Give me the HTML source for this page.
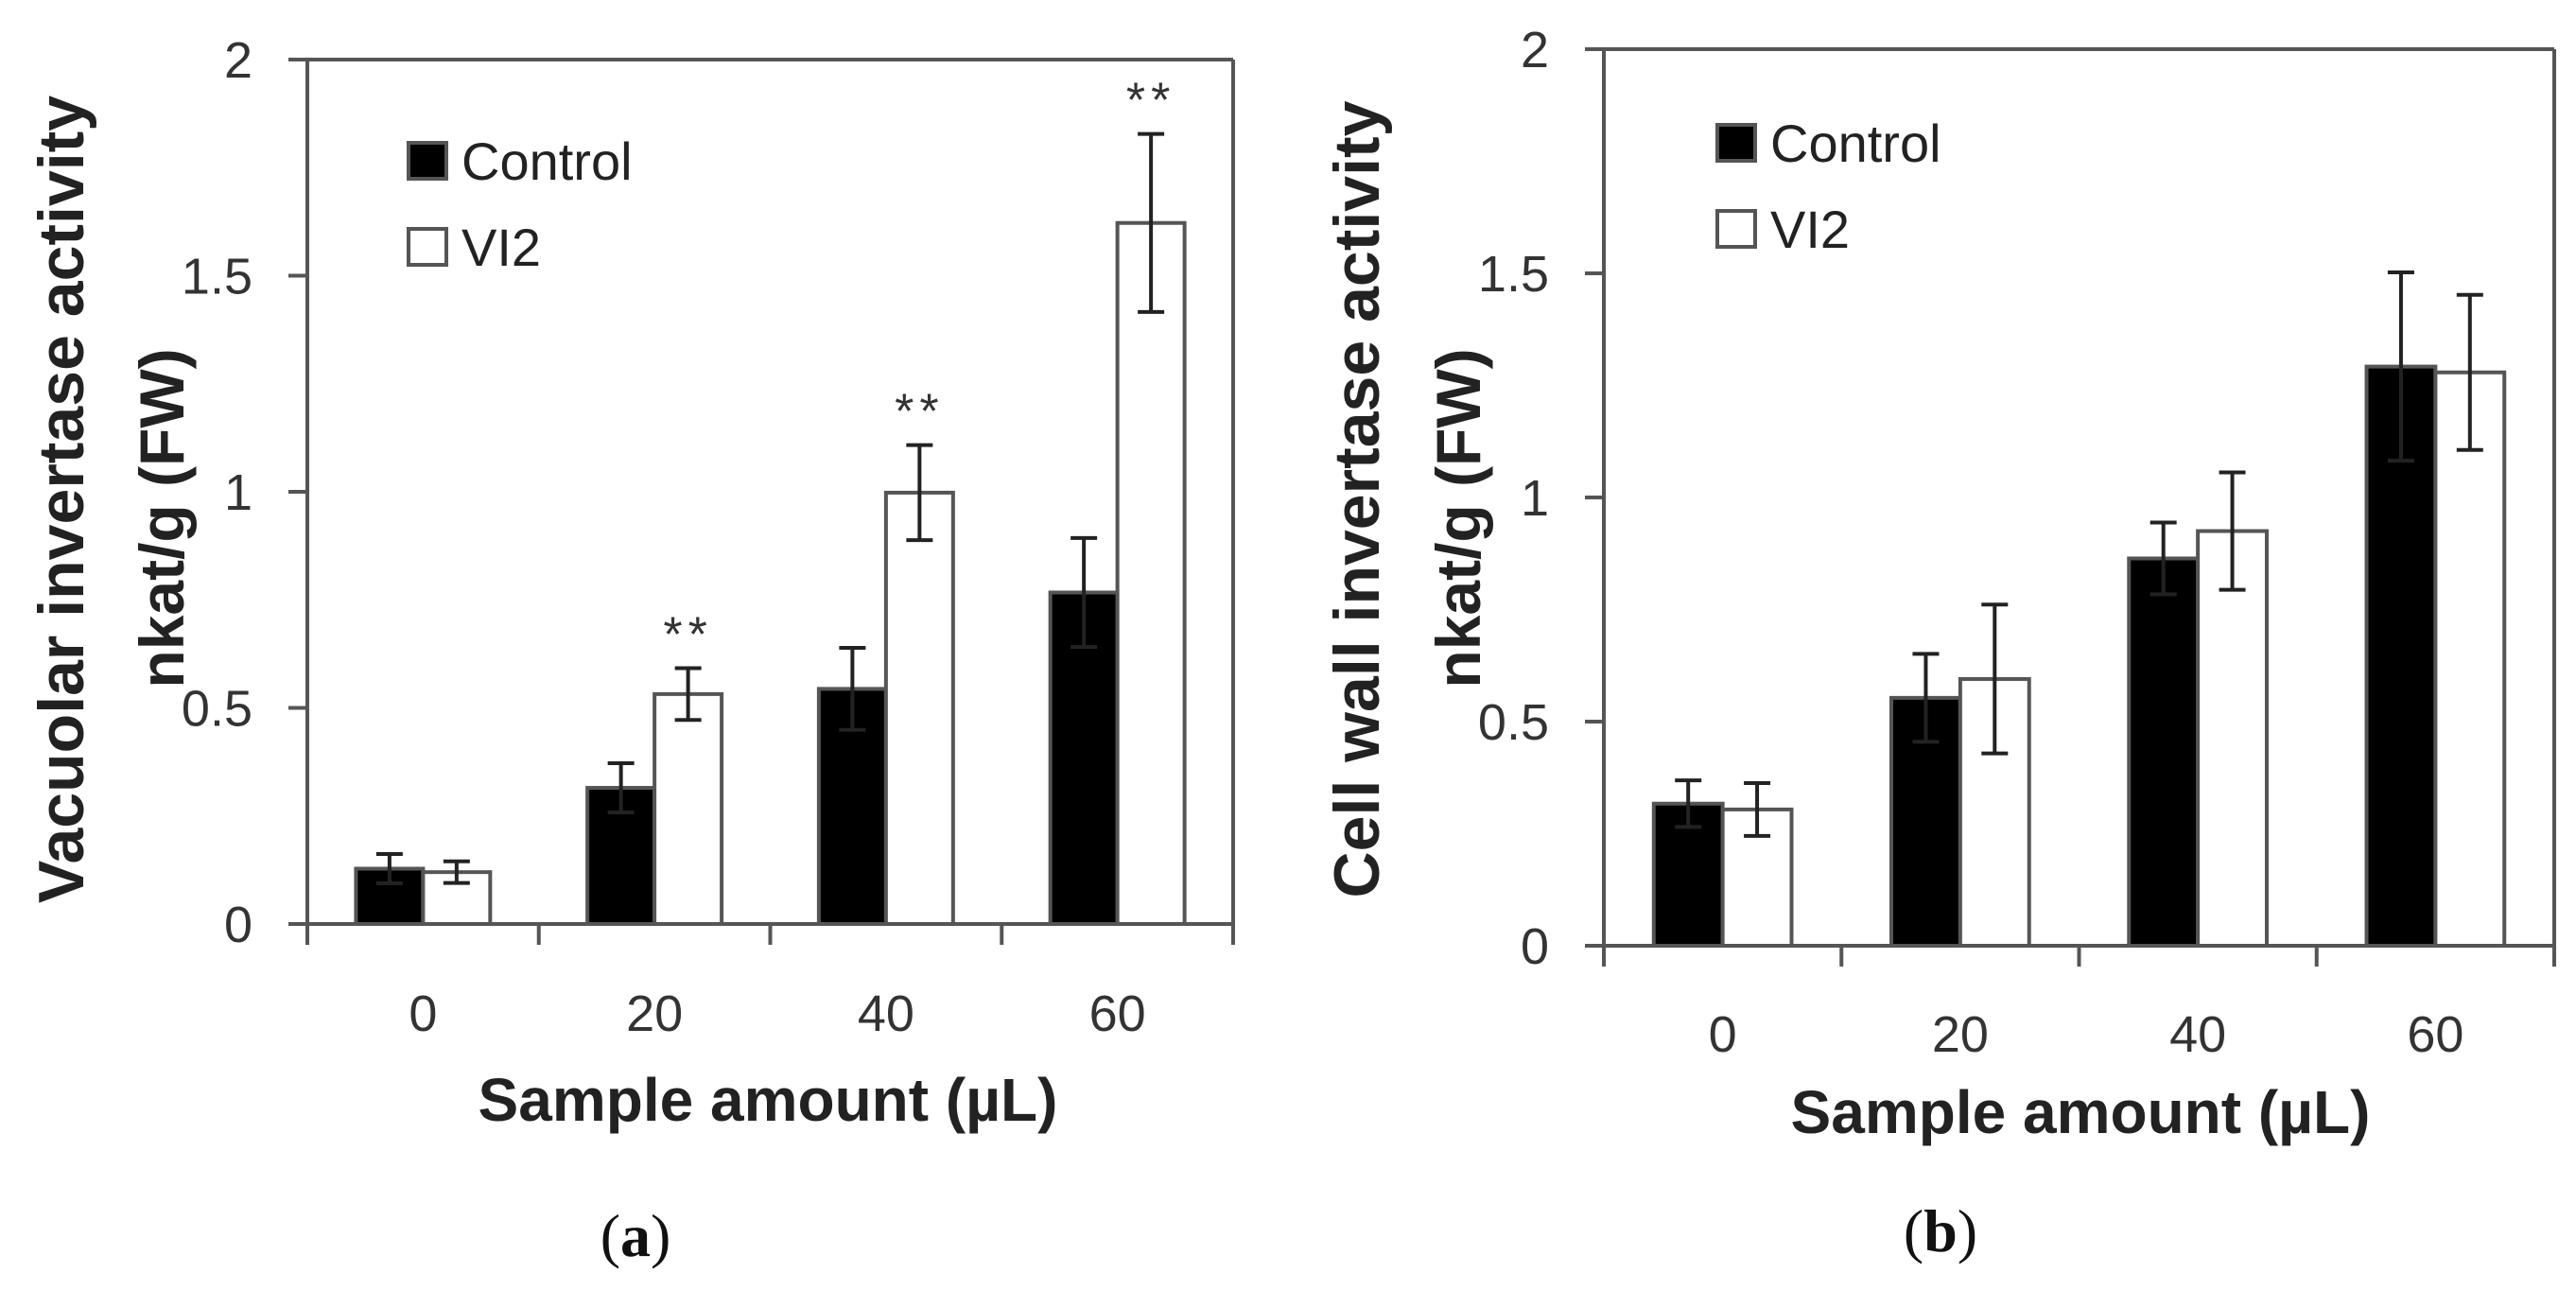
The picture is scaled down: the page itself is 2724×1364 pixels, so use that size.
<!DOCTYPE html>
<html><head><meta charset="utf-8"><style>
html,body{margin:0;padding:0;background:#fff;}
svg{display:block;}
</style></head><body>
<svg id="fig" width="2724" height="1364" viewBox="0 0 2724 1364" xmlns="http://www.w3.org/2000/svg"></svg>
<script>
const categories = ["0","20","40","60"];
const yTicks = [0,0.5,1,1.5,2];
const yTickLabels = ["0","0.5","1","1.5","2"];
const aControl = [0.128,0.315,0.544,0.767];
const aControlErr = [0.034,0.057,0.095,0.126];
const aVI2 = [0.12,0.532,0.998,1.622];
const aVI2Err = [0.025,0.06,0.11,0.206];
const aSig = [false,true,true,true];
const bControl = [0.317,0.553,0.864,1.292];
const bControlErr = [0.052,0.098,0.08,0.21];
const bVI2 = [0.304,0.595,0.925,1.279];
const bVI2Err = [0.059,0.166,0.131,0.173];
const bSig = [false,false,false,false];

const NS="http://www.w3.org/2000/svg";
const svg=document.getElementById('fig');
function mk(tag,attrs,parent){const e=document.createElementNS(NS,tag);for(const k in attrs)e.setAttribute(k,attrs[k]);(parent||svg).appendChild(e);return e;}
const FONT='"Liberation Sans", sans-serif';

function panel(p){
  const g=mk('g',{});
  
  
  const y=v=>p.y0+(p.y1-p.y0)*(v/2);
  const cw=(p.x1-p.x0)/categories.length;
  const bw=cw*0.29;
  categories.forEach((c,i)=>{
    const cx=p.x0+cw*(i+0.5);
    [[p.ctrl,p.ctrlErr,'#000',cx-bw,'control'],[p.vi2,p.vi2Err,'#fff',cx,'vi2']].forEach(s=>{
      const v=s[0][i],e=s[1][i];
      const r=mk('rect',{x:s[3],y:y(v),width:bw,height:y(0)-y(v),fill:s[2],stroke:'#555','stroke-width':4},g);
      
      
      const bx=s[3]+bw/2;
      const eg=mk('g',{stroke:'#222','stroke-width':4},g);
      
      
      mk('line',{x1:bx,x2:bx,y1:y(v+e),y2:y(v-e)},eg);
      mk('line',{x1:bx-14,x2:bx+14,y1:y(v+e),y2:y(v+e)},eg);
      mk('line',{x1:bx-14,x2:bx+14,y1:y(v-e),y2:y(v-e)},eg);
    });
    if(p.sig[i]){
      const t=mk('text',{x:cx+bw/2,y:y(p.vi2[i]+p.vi2Err[i])-18,'font-family':FONT,'font-size':52,'text-anchor':'middle',fill:'#333','letter-spacing':6},g);
      t.textContent='**';
      
      
    }
    const tl=mk('text',{x:cx,y:p.xlabY,'font-family':FONT,'font-size':54,'text-anchor':'middle',fill:'#333'},g);
    tl.textContent=c;
    
    
  });
  const ax=mk('g',{stroke:'#555','stroke-width':4,fill:'none'},g);
  
  
  mk('line',{x1:p.x0,x2:p.x0,y1:p.y1,y2:p.y0+2},ax);
  mk('line',{x1:p.x1,x2:p.x1,y1:p.y1,y2:p.y0+2},ax);
  mk('line',{x1:p.x0,x2:p.x1,y1:p.y1,y2:p.y1},ax);
  mk('line',{x1:p.x0-20,x2:p.x1,y1:p.y0,y2:p.y0},ax);
  for(let i=0;i<=categories.length;i++){const tx=p.x0+cw*i;mk('line',{x1:tx,x2:tx,y1:p.y0,y2:p.y0+22},ax);}
  yTicks.forEach((v,i)=>{
    mk('line',{x1:p.x0-20,x2:p.x0,y1:y(v),y2:y(v)},ax);
    const t=mk('text',{x:p.x0-58,y:y(v)+19,'font-family':FONT,'font-size':54,'text-anchor':'end',fill:'#333'},g);
    t.textContent=yTickLabels[i];
    
    
  });
  [['#000','Control',p.legY],['#fff','VI2',p.legY+91]].forEach(l=>{
    const lg=mk('g',{},g);
    
    
    mk('rect',{x:p.legX,y:l[2],width:40,height:38,fill:l[0],stroke:'#555','stroke-width':4},lg);
    const t=mk('text',{x:p.legX+56,y:l[2]+39,'font-family':FONT,'font-size':56,fill:'#222'},lg);
    t.textContent=l[1];
  });
  const xt=mk('text',{x:p.xtX,y:p.xtY,'font-family':FONT,'font-size':64,'font-weight':'bold','text-anchor':'middle',fill:'#222'},g);
  xt.textContent='Sample amount (µL)';
  
  
  const yt=mk('text',{transform:`translate(${p.yt1X},${p.yt1Y}) rotate(-90)`,'font-family':FONT,'font-size':68,'font-weight':'bold','text-anchor':'middle',fill:'#222'},g);
  yt.textContent=p.ytitle;
  
  
  const yt2=mk('text',{transform:`translate(${p.yt2X},${p.yt2Y}) rotate(-90)`,'font-family':FONT,'font-size':66,'font-weight':'bold','text-anchor':'middle',fill:'#222'},g);
  yt2.textContent='nkat/g (FW)';
  
  
  const cap=mk('text',{x:p.capX,y:p.capY,'font-family':'"Liberation Serif", serif','font-size':64,'text-anchor':'middle',fill:'#111'},g);
  cap.innerHTML='(<tspan font-weight="bold">'+p.cap+'</tspan>)';
  
  
}

panel({name:'panel-a',x0:325,x1:1304,y0:977,y1:63,ctrl:aControl,ctrlErr:aControlErr,vi2:aVI2,vi2Err:aVI2Err,sig:aSig,
  xlabY:1090,legX:432,legY:151,xtX:812,xtY:1185,ytitle:'Vacuolar invertase activity',yt1X:88,yt1Y:528,yt2X:194,yt2Y:548,capX:672,capY:1328,cap:'a'});
panel({name:'panel-b',x0:1696,x1:2701,y0:1000,y1:52,ctrl:bControl,ctrlErr:bControlErr,vi2:bVI2,vi2Err:bVI2Err,sig:bSig,
  xlabY:1112,legX:1816,legY:132,xtX:2200,xtY:1198,ytitle:'Cell wall invertase  activity',yt1X:1458,yt1Y:528,yt2X:1565,yt2Y:548,capX:2052,capY:1323,cap:'b'});
</script>
</body></html>
